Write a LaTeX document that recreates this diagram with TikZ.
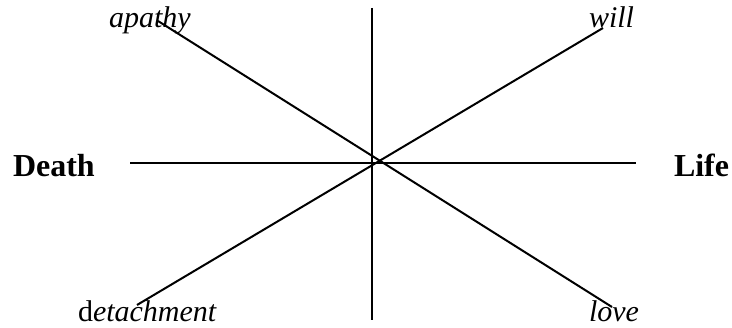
\documentclass[tikz,border=0pt]{standalone}
\usepackage{fontspec}
\setmainfont{Liberation Serif}
\begin{document}
\begin{tikzpicture}[x=1pt, y=1pt, line width=2pt,
		pole/.style={font=\fontsize{32}{36}\selectfont\bfseries, inner sep=0pt, anchor=base west},
		trait/.style={font=\fontsize{30}{34}\selectfont\itshape, inner sep=0pt, anchor=base west}]
		\useasboundingbox (0, 0) rectangle (732, 328);
		% axis ends
		\coordinate (hl) at (130, 165);
		\coordinate (hr) at (636, 165);
		\coordinate (vt) at (372, 320);
		\coordinate (vb) at (372, 8);
		\coordinate (ap) at (158, 307);
		\coordinate (lo) at (612, 21);
		\coordinate (de) at (137, 23);
		\coordinate (wi) at (603, 300);
		\draw (hl) -- (hr);
		\draw (vt) -- (vb);
		\draw (ap) -- (lo);
		\draw (de) -- (wi);
		% labels
		\node[pole] (death) at (12, 151) {Death};
		\node[pole] (life) at (673, 151) {Life};
		\node[trait] (apathy) at (108, 300) {apathy};
		\node[trait] (will) at (588, 300) {will};
		\node[trait] (detachment) at (77, 6) {\upshape d\itshape etachment};
		\node[trait] (love) at (588, 6) {love};
	\end{tikzpicture}
\end{document}
